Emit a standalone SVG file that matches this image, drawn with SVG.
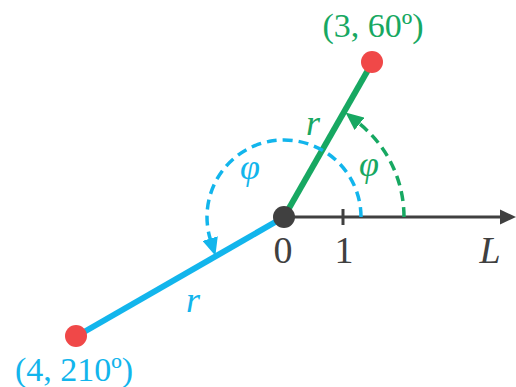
<svg xmlns="http://www.w3.org/2000/svg" width="516" height="387" viewBox="0 0 516 387">
<style>
  .t { font-family: "Liberation Serif", "DejaVu Serif", serif; }
  .i { font-style: italic; }
  .g { fill: #17a862; }
  .b { fill: #12b5ec; }
  .k { fill: #404040; }
  .dash { fill: none; stroke-width: 3.5; stroke-dasharray: 10 6; }
</style>
<defs>
  <marker id="ag" viewBox="0 0 18 16" refX="1" refY="8" markerWidth="18" markerHeight="16" markerUnits="userSpaceOnUse" orient="auto">
    <path d="M0,0 L18,8 L0,16 Z" fill="#17a862"/>
  </marker>
  <marker id="ab" viewBox="0 0 18 16" refX="1" refY="8" markerWidth="18" markerHeight="16" markerUnits="userSpaceOnUse" orient="auto">
    <path d="M0,0 L18,8 L0,16 Z" fill="#12b5ec"/>
  </marker>
</defs>
<g id="connectors">
  <g id="axis">
    <line x1="284" y1="217" x2="502" y2="217" stroke="#404040" stroke-width="3"/>
    <path d="M500,209.5 L516,217 L500,224.5 Z" fill="#404040"/>
    <line x1="343" y1="209" x2="343" y2="225" stroke="#404040" stroke-width="3"/>
  </g>
  <line id="ray-green" x1="284" y1="217" x2="372" y2="63" stroke="#17a862" stroke-width="6"/>
  <line id="ray-blue" x1="284" y1="217" x2="77" y2="336" stroke="#12b5ec" stroke-width="6"/>
  <path id="arc-green" class="dash" stroke="#17a862" d="M404,217 A120,120 0 0 0 358.8,123.2" marker-end="url(#ag)"/>
  <path id="arc-blue" class="dash" stroke="#12b5ec" d="M361,217 A77,77 0 1 0 210.4,239.6" marker-end="url(#ab)"/>
</g>
<g id="origin"><circle cx="284" cy="217" r="11" fill="#404040"/></g>
<g id="point-green"><circle cx="372" cy="62" r="11" fill="#f04848"/></g>
<g id="point-blue"><circle cx="76" cy="336" r="11" fill="#f04848"/></g>
<g id="labels">
  <text class="t g" x="373" y="37" font-size="34" text-anchor="middle">(3, 60º)</text>
  <text class="t b" x="74" y="381" font-size="34" text-anchor="middle">(4, 210º)</text>
  <text class="t k" x="283" y="263" font-size="38" text-anchor="middle">0</text>
  <text class="t k" x="344" y="263" font-size="38" text-anchor="middle">1</text>
  <text class="t k i" x="490" y="263" font-size="38" text-anchor="middle">L</text>
  <text class="t g i" x="313" y="135" font-size="36" text-anchor="middle">r</text>
  <text class="t b i" x="193" y="312" font-size="36" text-anchor="middle">r</text>
  <text class="t b i" x="250" y="179" font-size="36" text-anchor="middle">φ</text>
  <text class="t g i" x="369" y="176" font-size="36" text-anchor="middle">φ</text>
</g>
</svg>
